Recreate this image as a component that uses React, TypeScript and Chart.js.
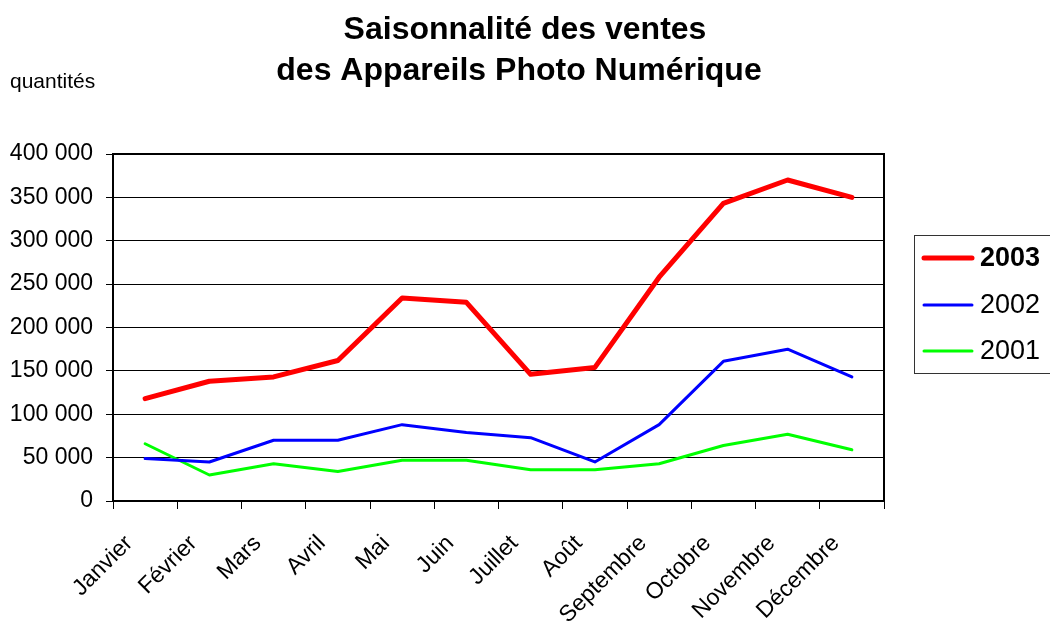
import React, { useEffect, useRef } from "react";
import { Chart, registerables } from "chart.js";

Chart.register(...registerables);

const months = ["Janvier", "Février", "Mars", "Avril", "Mai", "Juin", "Juillet", "Août", "Septembre", "Octobre", "Novembre", "Décembre"];
const sales2003 = [118000, 138000, 143000, 162000, 234000, 229000, 146000, 154000, 258000, 343000, 370000, 350000];
const sales2002 = [49000, 45000, 70000, 70000, 88000, 79000, 73000, 45000, 88000, 161000, 175000, 143000];
const sales2001 = [66000, 30000, 43000, 34000, 47000, 47000, 36000, 36000, 43000, 64000, 77000, 59000];
const seriesNames = ["2003", "2002", "2001"];
const seriesColors = ["#FF0000", "#0000FF", "#00FF00"];
const seriesWidths = [5, 3, 3];
const titleLines = ["Saisonnalité des ventes", "des Appareils Photo Numérique"];
const yUnitLabel = "quantités";

const FONT = "'Liberation Sans', Arial, sans-serif";

const fmt = (v: number) => String(v).replace(/\B(?=(\d{3})+(?!\d))/g, " ");

const decorPlugin = {
  id: "decor",
  afterDraw(chart: any) {
    const ctx = chart.ctx;
    const a = chart.chartArea;
    ctx.save();
    // plot border
    ctx.strokeStyle = "#000";
    ctx.lineWidth = 2;
    ctx.strokeRect(a.left, a.top, a.right - a.left, a.bottom - a.top);
    // title
    ctx.fillStyle = "#000";
    ctx.textAlign = "center";
    ctx.textBaseline = "middle";
    ctx.font = `bold 32px ${FONT}`;
    ctx.fillText(titleLines[0], 525, 30);
    ctx.fillText(titleLines[1], 519, 71);
    // unit label
    ctx.textAlign = "left";
    ctx.font = `21px ${FONT}`;
    ctx.fillText(yUnitLabel, 10, 82);
    // legend
    const lx = 914, ly = 235, lw = 150, lh = 138;
    ctx.lineWidth = 1;
    ctx.strokeStyle = "#333";
    ctx.strokeRect(lx + 0.5, ly + 0.5, lw, lh);
    const ys = [258, 305, 351];
    chart.data.datasets.forEach((ds: any, i: number) => {
      ctx.beginPath();
      ctx.strokeStyle = ds.borderColor;
      ctx.lineWidth = ds.borderWidth;
      ctx.lineCap = "round";
      ctx.moveTo(924, ys[i]);
      ctx.lineTo(972, ys[i]);
      ctx.stroke();
      ctx.fillStyle = "#000";
      ctx.font = `${i === 0 ? "bold " : ""}27px ${FONT}`;
      ctx.textAlign = "left";
      ctx.textBaseline = "middle";
      ctx.fillText(ds.label, 980, ys[i] + 1);
    });
    ctx.restore();
  },
};

export default function App() {
  const ref = useRef<HTMLCanvasElement>(null);
  useEffect(() => {
    if (!ref.current) return;
    const series = [sales2003, sales2002, sales2001];
    const chart = new Chart(ref.current, {
      type: "line",
      data: {
        labels: months,
        datasets: series.map((d, i) => ({
          label: seriesNames[i],
          data: d,
          borderColor: seriesColors[i],
          backgroundColor: seriesColors[i],
          borderWidth: seriesWidths[i],
          pointRadius: 0,
          tension: 0,
          borderCapStyle: "round",
          borderJoinStyle: "round",
        })),
      },
      options: {
        animation: false,
        responsive: false,
        devicePixelRatio: 1,
        layout: { padding: { top: 154, right: 166, left: 0, bottom: 0 } },
        plugins: {
          legend: { display: false },
          title: { display: false },
          tooltip: { enabled: false },
        },
        scales: {
          x: {
            offset: true,
            grid: {
              offset: true,
              drawOnChartArea: false,
              drawTicks: true,
              tickLength: 8,
              color: "#000",
              lineWidth: 1,
            },
            border: { display: true, color: "#000", width: 2 },
            ticks: {
              minRotation: 45,
              maxRotation: 45,
              autoSkip: false,
              padding: 21,
              labelOffset: -16,
              color: "#000",
              font: { family: FONT, size: 23 },
            },
            afterFit: (s: any) => {
              s.height = 120;
            },
          },
          y: {
            min: 0,
            max: 400000,
            ticks: {
              stepSize: 50000,
              padding: 13,
              color: "#000",
              font: { family: FONT, size: 23 },
              callback: (v: any) => fmt(Number(v)),
            },
            grid: {
              color: "#000",
              lineWidth: 1,
              drawTicks: true,
              tickLength: 7,
            },
            border: { display: true, color: "#000", width: 2 },
            afterFit: (s: any) => {
              s.width = 113;
            },
          },
        },
      },
      plugins: [decorPlugin],
    });
    return () => chart.destroy();
  }, []);
  return (
    <div style={{ position: "absolute", left: 0, top: 0, width: 1050, height: 621, background: "#fff" }}>
      <canvas ref={ref} width={1050} height={621} />
    </div>
  );
}
